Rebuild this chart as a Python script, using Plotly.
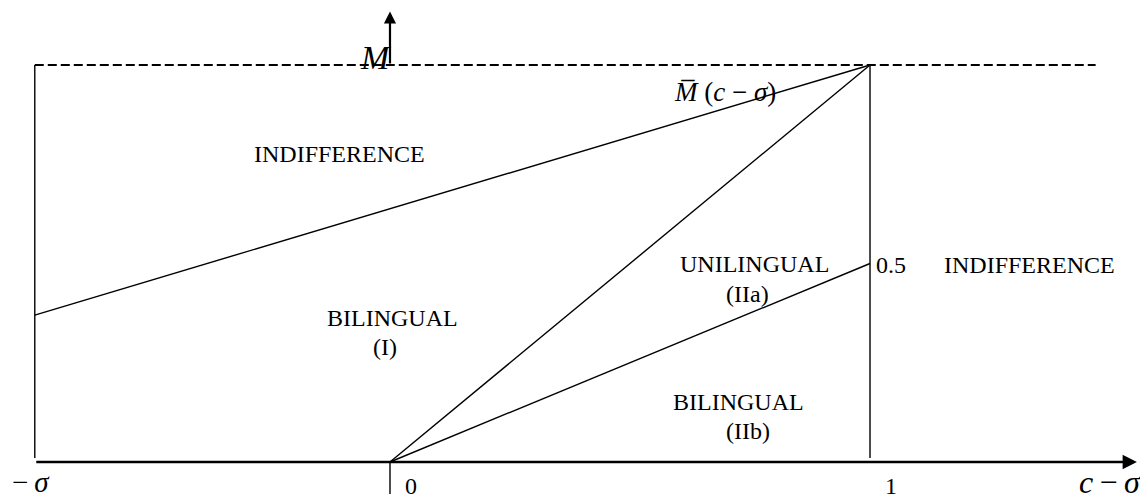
import plotly.graph_objects as go

# Phase diagram: c - sigma on the horizontal axis, M on the vertical axis
neg_sigma = -0.74          # where -sigma sits on the c - sigma axis
m_max = 1.0                # height of the dashed M line
dash_end = 1.47

mbar_x = [neg_sigma, 1.0]  # M-bar(c - sigma) boundary
mbar_y = [0.37, 1.0]
diag_x = [0.0, 1.0]        # bilingual / unilingual boundary
diag_y = [0.0, 1.0]
split_x = [0.0, 1.0]       # unilingual / bilingual (IIb) boundary
split_y = [0.0, 0.5]

tick_vals = [0.0, 1.0]
tick_text = ['0', '1']

FONT = 'Liberation Serif, Times New Roman, serif'
BLACK = '#000000'

fig = go.Figure()

def add_line(x, y, width=1.4, dash='solid'):
    fig.add_trace(go.Scatter(x=x, y=y, mode='lines', showlegend=False, hoverinfo='skip',
                             line=dict(color=BLACK, width=width, dash=dash)))

# box edges and dashed ceiling
add_line([neg_sigma, dash_end], [m_max, m_max], width=2.2, dash='9px,4px')
add_line([neg_sigma, neg_sigma], [0.01, m_max])
add_line([1.0, 1.0], [0.01, m_max])
# boundaries
add_line(mbar_x, mbar_y)
add_line(diag_x, diag_y)
add_line(split_x, split_y)
# bit of the vertical axis below the horizontal axis
add_line([0.0, 0.0], [0.0, -0.12], width=1.4)

# axes with arrows
fig.add_annotation(x=1.556, y=0, ax=neg_sigma, ay=0, xref='x', yref='y', axref='x', ayref='y',
                   text='', showarrow=True, arrowhead=2, arrowsize=1.1, arrowwidth=2.6, arrowcolor=BLACK)
fig.add_annotation(x=0.0, y=1.135, ax=0.0, ay=m_max, xref='x', yref='y', axref='x', ayref='y',
                   text='', showarrow=True, arrowhead=2, arrowsize=1.1, arrowwidth=2.2, arrowcolor=BLACK)

def label(x, y, text, size=24, xanchor='center', yanchor='middle', italic=False):
    fig.add_annotation(x=x, y=y, text=text, showarrow=False, xanchor=xanchor, yanchor=yanchor,
                       font=dict(family=FONT, size=size, color=BLACK,
                                 style='italic' if italic else 'normal'))

label(-0.106, 0.776, 'INDIFFERENCE')
label(0.006, 0.363, 'BILINGUAL')
label(-0.010, 0.290, '(I)')
label(0.760, 0.499, 'UNILINGUAL')
label(0.744, 0.423, '(IIa)')
label(0.727, 0.151, 'BILINGUAL')
label(0.746, 0.078, '(IIb)')
label(1.333, 0.496, 'INDIFFERENCE')
label(1.008, 0.496, '0.5', xanchor='left')

for v, t in zip(tick_vals, tick_text):
    label(v + 0.044, -0.060, t)

label(-0.031, 1.02, 'M', size=34, italic=True)
label(0.698, 0.932, 'M\u0305<span style="font-style:normal"> (</span>c<span style="font-style:normal"> \u2212 </span>\u03c3<span style="font-style:normal">)</span>',
      size=27, italic=True)
label(-0.7917, -0.005, '\u2212\u2009<i>\u03c3</i>', size=29, xanchor='left', yanchor='top')
label(1.431, 0.0, '<i>c</i>\u2009\u2212\u2009<i>\u03c3</i>', size=32, xanchor='left', yanchor='top')

# the page body has an 8px margin, so the ranges are offset to keep marks in place
fig.update_layout(
    width=1148, height=494, autosize=False,
    margin=dict(l=0, r=0, t=0, b=0),
    paper_bgcolor='white', plot_bgcolor='white',
    xaxis=dict(range=[-0.7958, 1.5958], visible=False, fixedrange=True),
    yaxis=dict(range=[-0.1008, 1.1436], visible=False, fixedrange=True),
)

fig.write_html('out.html')
